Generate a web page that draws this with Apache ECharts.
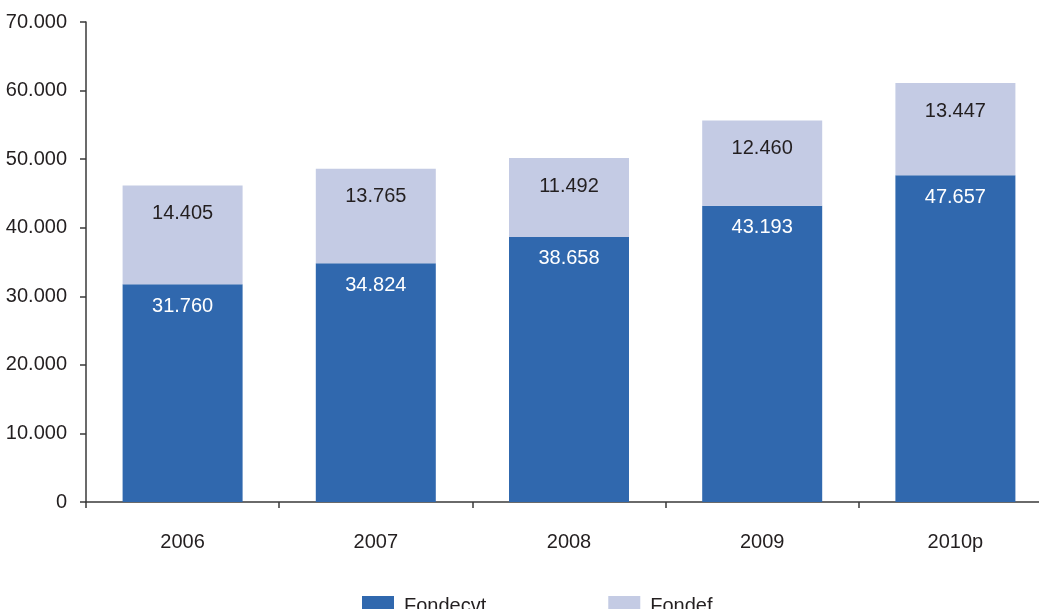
<!DOCTYPE html>
<html>
<head>
<meta charset="utf-8">
<script src="https://cdn.jsdelivr.net/npm/echarts@6/dist/echarts.min.js"></script>
<style>
html,body{margin:0;padding:0;background:#fff;}
#chart{width:1039px;height:609px;}
</style>
</head>
<body>
<div id="chart"></div>
<script>
const categories = ['2006', '2007', '2008', '2009', '2010p'];
const fondecyt = [31760, 34824, 38658, 43193, 47657];
const fondef = [14405, 13765, 11492, 12460, 13447];
const seriesNames = ['Fondecvt', 'Fondef'];

const FONT = "'Liberation Sans Narrow', 'Liberation Sans', Arial, sans-serif";
const FS = 20;
const TXT = '#231f20';
const fmt = v => String(Math.round(v)).replace(/\B(?=(\d{3})+(?!\d))/g, '.');

const chart = echarts.init(document.getElementById('chart'), null, {renderer: 'canvas'});
chart.setOption({
  animation: false,
  textStyle: {fontFamily: FONT},
  grid: {left: 86, top: 22, width: 966, height: 480, containLabel: false, outerBoundsMode: 'none'},
  legend: {
    left: 357, top: 591,
    itemWidth: 32, itemHeight: 20, itemGap: 122,
    icon: 'rect',
    textStyle: {fontFamily: FONT, fontSize: FS, color: TXT, padding: [0, 0, 0, 5]},
    data: seriesNames
  },
  xAxis: {
    type: 'category',
    data: categories,
    axisLine: {lineStyle: {color: '#3a3a3a', width: 1.5}},
    axisTick: {show: true, length: 6, lineStyle: {color: '#3a3a3a', width: 1.5}},
    axisLabel: {fontFamily: FONT, fontSize: FS, color: TXT, margin: 30}
  },
  yAxis: {
    type: 'value',
    min: 0, max: 70000, interval: 10000,
    splitLine: {show: false},
    axisLine: {show: true, lineStyle: {color: '#3a3a3a', width: 1.5}},
    axisTick: {show: true, length: 6, lineStyle: {color: '#3a3a3a', width: 1.5}},
    axisLabel: {fontFamily: FONT, fontSize: FS, color: TXT, margin: 19, formatter: fmt}
  },
  series: [
    {
      name: seriesNames[0], type: 'bar', stack: 'total',
      data: fondecyt, barWidth: 120,
      itemStyle: {color: '#3068ae'},
      label: {show: true, position: 'insideTop', distance: 12, color: '#ffffff',
        fontFamily: FONT, fontSize: FS, formatter: p => fmt(p.value)}
    },
    {
      name: seriesNames[1], type: 'bar', stack: 'total',
      data: fondef, barWidth: 120,
      itemStyle: {color: '#c4cbe4'},
      label: {show: true, position: 'insideTop', distance: 18, color: TXT,
        fontFamily: FONT, fontSize: FS, formatter: p => fmt(p.value)}
    }
  ]
});
</script>
</body>
</html>
